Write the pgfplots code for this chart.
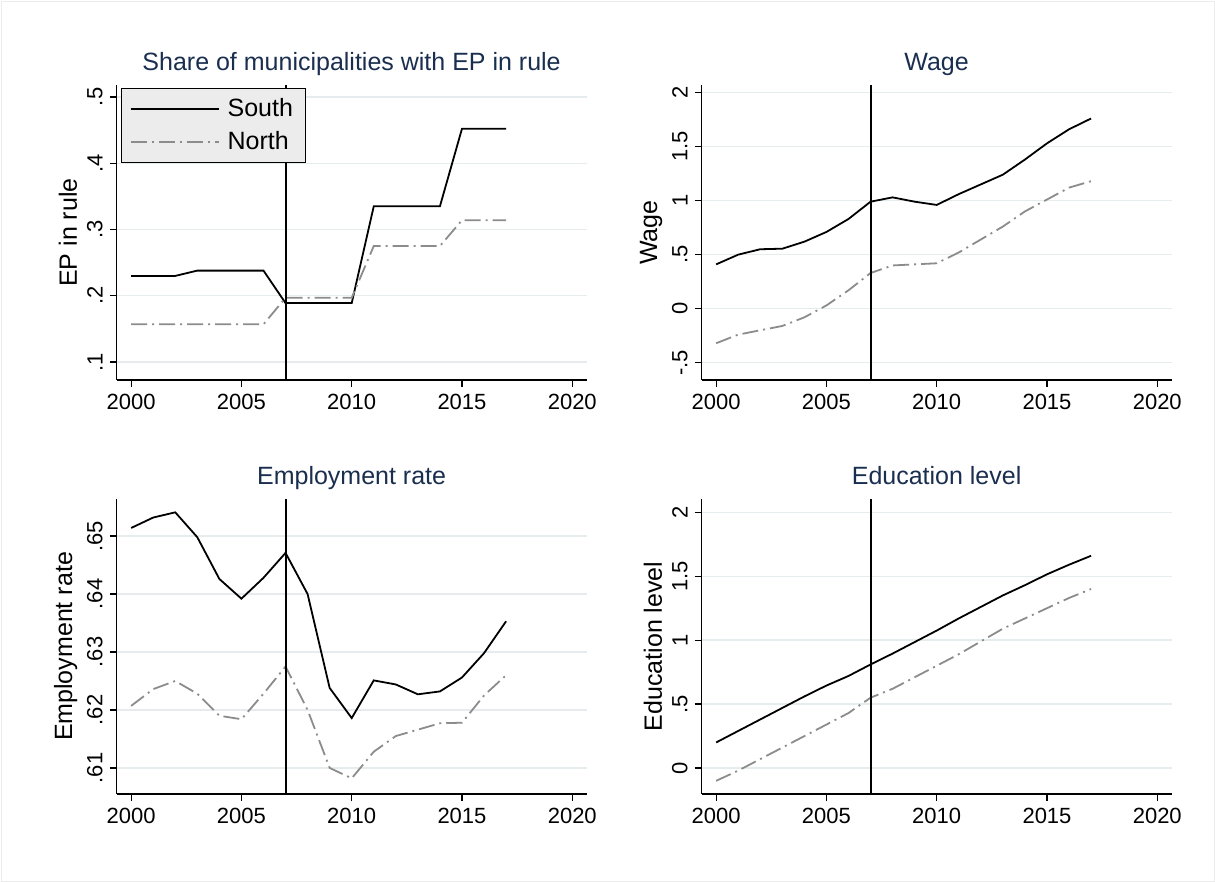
\documentclass[border=0pt]{standalone}
\usepackage{pgfplots}
\pgfplotsset{compat=1.18}
\usepackage{fontspec}
\setmainfont{Liberation Sans}
\definecolor{tcol}{HTML}{1A2E4F}
\definecolor{ncol}{HTML}{8C8C8C}
\definecolor{gcol}{HTML}{E6ECEE}
\pgfplotsset{
  panel/.style={
    scale only axis, width=235pt, height=147.5pt,
    axis x line*=bottom, axis y line*=left,
    axis line style={-, black, line width=0.6pt},
    tick style={black, line width=0.6pt}, tick align=outside, major tick length=3.5pt,
    xtick={2000,2005,2010,2015,2020},
    ymajorgrids, grid style={gcol, line width=0.7pt},
    yticklabel style={rotate=90, anchor=south},
    /pgf/number format/assume math mode=true,
    /pgf/number format/1000 sep={},
    ticklabel style={font=\fontsize{11}{12}\selectfont},
    label style={font=\fontsize{12.5}{14}\selectfont},
    title style={font=\fontsize{12.5}{14}\selectfont, text=tcol, yshift=-5pt, text depth=0.25em},
    ylabel style={yshift=-2pt},
    clip=false,
  },
  south/.style={black, line width=0.9pt, no marks},
  north/.style={ncol, line width=0.9pt, no marks, dash pattern=on 8pt off 2.5pt on 1pt off 2.5pt},
  vl/.style={black, line width=1pt, forget plot},
}
\begin{document}
\begin{tikzpicture}
\fill[white] (0pt,0pt) rectangle (607.5pt,441pt);
\draw[gray!15] (0.5pt,0.5pt) rectangle (607pt,440.5pt);
% top-left
\begin{axis}[panel, at={(58.3pt,251pt)}, anchor=south west, xmin=1999.34, xmax=2020.65, ymin=0.073, ymax=0.518,
  ytick={0.1,0.2,0.3,0.4,0.5}, yticklabels={.1,.2,.3,.4,.5},
  title={Share of municipalities with EP in rule}, ylabel={EP in rule},
  legend style={at={(0.01,0.99)}, anchor=north west, fill=gray!15, draw=black,
    font=\fontsize{12.5}{14}\selectfont, row sep=2pt, inner xsep=4pt, inner ysep=3pt},
  legend image code/.code={\draw[#1] (0pt,0pt) -- (44pt,0pt);},
  legend cell align=left]
\addplot[south] coordinates {(2000,0.23)(2001,0.23)(2002,0.23)(2003,0.238)(2004,0.238)(2005,0.238)(2006,0.238)(2007,0.189)(2008,0.189)(2009,0.189)(2010,0.189)(2011,0.335)(2012,0.335)(2013,0.335)(2014,0.335)(2015,0.452)(2016,0.452)(2017,0.452)};
\addplot[north] coordinates {(2000,0.157)(2001,0.157)(2002,0.157)(2003,0.157)(2004,0.157)(2005,0.157)(2006,0.157)(2007,0.197)(2008,0.197)(2009,0.197)(2010,0.197)(2011,0.275)(2012,0.275)(2013,0.275)(2014,0.275)(2015,0.314)(2016,0.314)(2017,0.314)};
\legend{\,South,\,North}
\addplot[vl] coordinates {(2007,0.073)(2007,0.518)};
\end{axis}
% top-right
\begin{axis}[panel, at={(350.8pt,251pt)}, anchor=south west, xmin=1999.34, xmax=2020.65, ymin=-0.66, ymax=2.07,
  ytick={-0.5,0,0.5,1,1.5,2}, yticklabels={-.5,0,.5,1,1.5,2},
  title={Wage}, ylabel={Wage}]
\addplot[south] coordinates {(2000,0.41)(2001,0.50)(2002,0.55)(2003,0.555)(2004,0.62)(2005,0.71)(2006,0.83)(2007,0.99)(2008,1.03)(2009,0.99)(2010,0.96)(2011,1.06)(2012,1.15)(2013,1.24)(2014,1.38)(2015,1.53)(2016,1.66)(2017,1.76)};
\addplot[north] coordinates {(2000,-0.32)(2001,-0.24)(2002,-0.20)(2003,-0.16)(2004,-0.08)(2005,0.03)(2006,0.17)(2007,0.33)(2008,0.40)(2009,0.41)(2010,0.42)(2011,0.52)(2012,0.64)(2013,0.76)(2014,0.90)(2015,1.01)(2016,1.12)(2017,1.18)};
\addplot[vl] coordinates {(2007,-0.66)(2007,2.07)};
\end{axis}
% bottom-left
\begin{axis}[panel, at={(58.3pt,44pt)}, anchor=south west, xmin=1999.34, xmax=2020.65, ymin=0.6055, ymax=0.6564,
  ytick={0.61,0.62,0.63,0.64,0.65}, yticklabels={.61,.62,.63,.64,.65},
  title={Employment rate}, ylabel={Employment rate}]
\addplot[south] coordinates {(2000,0.6514)(2001,0.6532)(2002,0.6541)(2003,0.6498)(2004,0.6426)(2005,0.6392)(2006,0.6428)(2007,0.6471)(2008,0.6400)(2009,0.6238)(2010,0.6186)(2011,0.6251)(2012,0.6244)(2013,0.6227)(2014,0.6232)(2015,0.6256)(2016,0.6298)(2017,0.6353)};
\addplot[north] coordinates {(2000,0.6207)(2001,0.6236)(2002,0.6250)(2003,0.6228)(2004,0.6190)(2005,0.6184)(2006,0.6228)(2007,0.6275)(2008,0.6200)(2009,0.6100)(2010,0.6082)(2011,0.6128)(2012,0.6155)(2013,0.6166)(2014,0.6177)(2015,0.6178)(2016,0.6225)(2017,0.6260)};
\addplot[vl] coordinates {(2007,0.6055)(2007,0.6564)};
\end{axis}
% bottom-right
\begin{axis}[panel, at={(350.8pt,44pt)}, anchor=south west, xmin=1999.34, xmax=2020.65, ymin=-0.203, ymax=2.104,
  ytick={0,0.5,1,1.5,2}, yticklabels={0,.5,1,1.5,2},
  title={Education level}, ylabel={Education level}]
\addplot[south] coordinates {(2000,0.2)(2001,0.29)(2002,0.38)(2003,0.47)(2004,0.56)(2005,0.645)(2006,0.72)(2007,0.81)(2008,0.895)(2009,0.985)(2010,1.075)(2011,1.17)(2012,1.26)(2013,1.35)(2014,1.43)(2015,1.515)(2016,1.59)(2017,1.66)};
\addplot[north] coordinates {(2000,-0.1)(2001,-0.02)(2002,0.07)(2003,0.16)(2004,0.25)(2005,0.34)(2006,0.43)(2007,0.55)(2008,0.62)(2009,0.71)(2010,0.80)(2011,0.89)(2012,0.99)(2013,1.09)(2014,1.17)(2015,1.25)(2016,1.33)(2017,1.40)};
\addplot[vl] coordinates {(2007,-0.203)(2007,2.104)};
\end{axis}
\end{tikzpicture}
\end{document}
